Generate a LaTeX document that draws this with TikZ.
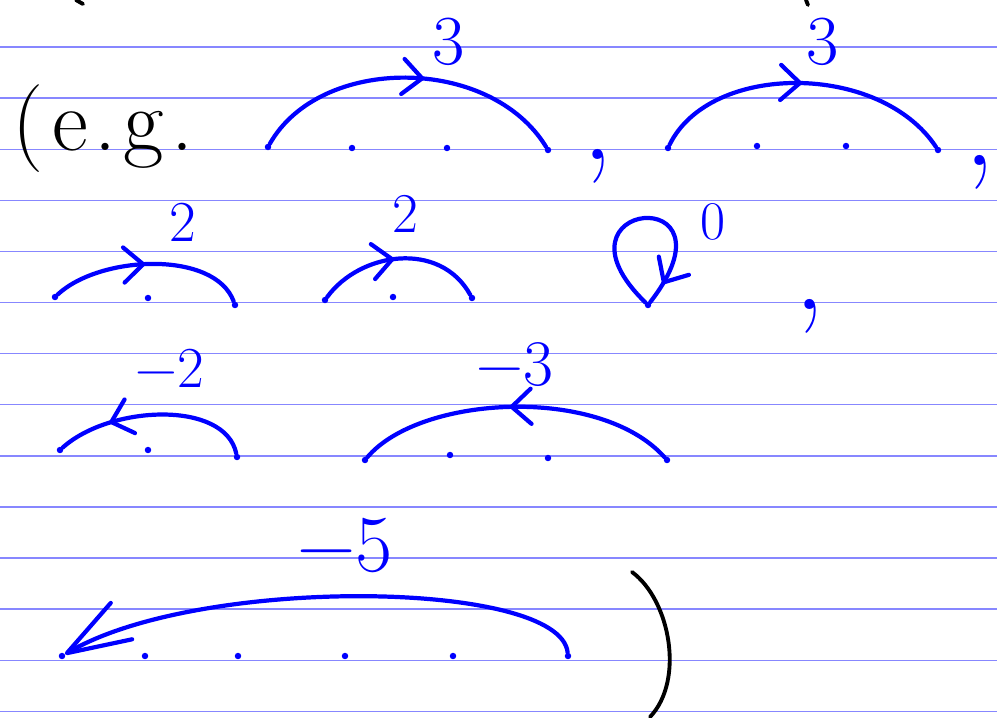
\documentclass[tikz,border=0pt]{standalone}
\usetikzlibrary{arrows.meta,decorations.markings}
\definecolor{ink}{RGB}{0,0,255}
\definecolor{ruled}{RGB}{135,135,255}
\begin{document}
\begin{tikzpicture}[x=0.02cm,y=-0.02cm,line cap=round,line join=round,
  dot/.style={circle,fill=ink,inner sep=1.3pt},
  arc/.style={draw=ink,line width=2.4pt},
  pen/.style={draw=black,line width=2.2pt},
  hop/.style={postaction={decorate},decoration={markings,mark=at position #1 with {\arrow{Straight Barb[round,length=11pt,width=20pt]}}}},
  num/.style={text=ink,inner sep=0pt,font=\fontsize{#1}{#1}\selectfont},num/.default=30,
  comma/.style={text=ink,inner sep=0pt,font=\fontsize{70}{70}\selectfont}]
\useasboundingbox (0,0) rectangle (997,717);
\foreach \k in {0,...,13}{\draw[ruled,line width=0.8pt] (0,{47+51.1*\k}) -- (997,{47+51.1*\k});}
% bits of the line above
\draw[pen] (76,0)--(83,4);\draw[pen] (806,0)--(808,5);
\node[font=\fontsize{50}{50}\selectfont,anchor=base west,inner sep=0pt] (eg) at (12,150) {(\kern5pt e\kern4pt.\kern4pt g\kern4pt.};
% row 1
\foreach \n/\x/\y in {a0/268/147,a1/352/148,a2/447/148,a3/548/150,b0/668/148,b1/757/146,b2/846/146,b3/938/150}{\node[dot] (\n) at (\x,\y) {};}
\draw[arc,hop=0.55] (a0) .. controls (320,55) and (490,55) .. (a3);
\draw[arc,hop=0.5] (b0) .. controls (710,62) and (880,62) .. (b3);
\node[num=40] (la) at (449,42) {3};\node[num=40] (lb) at (823,42) {3};
\node[comma] (k1) at (598,166) {,};\node[comma] (k2) at (980,172) {,};
% row 2
\foreach \n/\x/\y in {c0/55/297,c1/148/298,c2/235/305,d0/325/300,d1/393/297,d2/472/298,u/648/305}{\node[dot] (\n) at (\x,\y) {};}
\draw[arc,hop=0.48] (c0) .. controls (100,255) and (215,250) .. (c2);
\draw[arc,hop=0.47] (d0) .. controls (360,252) and (440,240) .. (d2);
\draw[arc,hop=0.9] (u) .. controls (540,200) and (745,180) .. (u);
\node[num=33] (lc) at (183,222) {2};\node[num=32] (ld) at (405,214) {2};\node[num=31] (lu) at (713,222) {0};
\node[comma] (k3) at (810,316) {,};
% row 3
\foreach \n/\x/\y in {f0/60/450,f1/148/450,f2/237/457,g0/365/460,g1/450/455,g2/548/458,g3/667/460}{\node[dot] (\n) at (\x,\y) {};}
\draw[arc,hop=0.73] (f2) .. controls (225,400) and (110,405) .. (f0);
\draw[arc,hop=0.52] (g3) .. controls (600,385) and (420,395) .. (g0);
\node[num=33] (lf) at (170,368) {−2};\node[num=37] (lg) at (515,365) {−3};
% row 4
\foreach \i/\x in {0/62,1/145,2/238,3/345,4/453,5/568}{\node[dot] (e\i) at (\x,656) {};}
\draw[arc,-{Straight Barb[round,length=36pt,width=24pt]}] (e5) .. controls (560,580) and (200,575) .. (e0);
\node[num=46] (le) at (345,545) {−5};
\draw[pen] (632,572) .. controls (670,600) and (685,680) .. (650,717);
\end{tikzpicture}
\end{document}
